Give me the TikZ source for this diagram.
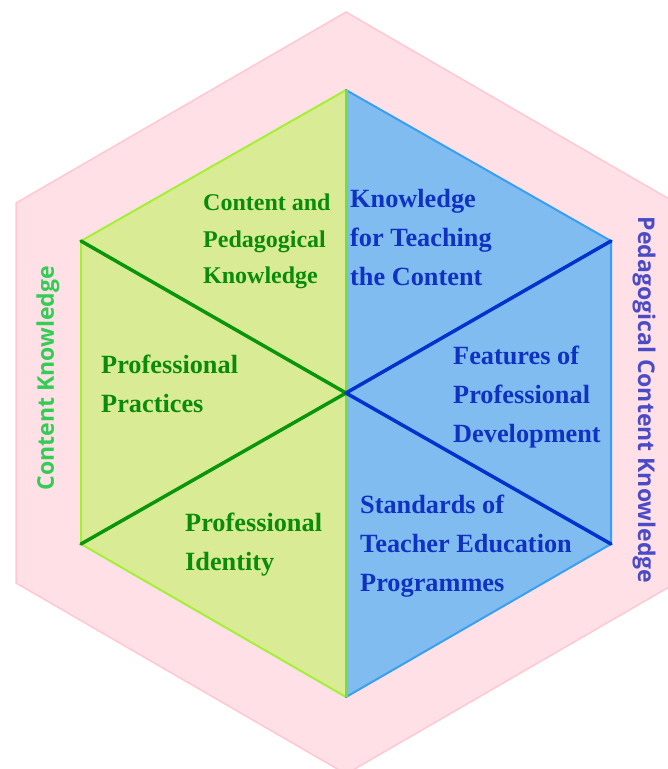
\documentclass[tikz,border=0pt]{standalone}
\usepackage{fontspec}
\setmainfont{Liberation Serif}
\newfontfamily\labelsans{Open Sans}
\definecolor{ringfill}{RGB}{255,224,230}
\definecolor{ringedge}{RGB}{255,200,210}
\definecolor{ckfill}{RGB}{218,235,150}
\definecolor{ckedge}{RGB}{165,240,55}
\definecolor{pckfill}{RGB}{128,188,240}
\definecolor{pckedge}{RGB}{55,160,240}
\definecolor{midline}{RGB}{120,220,70}
\definecolor{ckline}{RGB}{10,150,10}
\definecolor{pckline}{RGB}{0,50,205}
\definecolor{cktext}{RGB}{10,140,10}
\definecolor{pcktext}{RGB}{15,50,195}
\definecolor{cklabel}{RGB}{50,205,85}
\definecolor{pcklabel}{RGB}{75,75,200}
\tikzset{
  cell/.style={anchor=north west, inner sep=0pt, align=left,
    font=\bfseries\fontsize{26.3}{39}\selectfont},
  smallcell/.style={cell, font=\bfseries\fontsize{24}{36.5}\selectfont},
  cktxt/.style={text=cktext},
  pcktxt/.style={text=pcktext},
  sidelabel/.style={inner sep=0pt, font=\labelsans\bfseries\fontsize{23}{26}\selectfont},
  spoke/.style={line width=3.5pt, line cap=round}
}
\begin{document}
\begin{tikzpicture}[x=1pt, y=-1pt]
\useasboundingbox (0,0) rectangle (668,769);
\clip (0,0) rectangle (668,769);
% outer ring
\draw[fill=ringfill, draw=ringedge, line width=1.5pt]
  (346,12) -- (676,203) -- (676,583) -- (346,774) -- (16,583) -- (16,203) -- cycle;
% inner hexagon vertices
\coordinate (T) at (346,90);
\coordinate (UR) at (611,241);
\coordinate (LR) at (611,544);
\coordinate (B) at (346,697);
\coordinate (LL) at (81,544);
\coordinate (UL) at (81,241);
\coordinate (O) at (346,393);
% two halves
\draw[fill=ckfill, draw=ckedge, line width=2pt, line join=round]
  (T) -- (UL) -- (LL) -- (B) -- cycle;
\draw[fill=pckfill, draw=pckedge, line width=2pt, line join=round]
  (T) -- (UR) -- (LR) -- (B) -- cycle;
\draw[draw=midline, line width=3pt] (T) -- (B);
% spokes
\draw[spoke, draw=ckline] (O) -- (UL);
\draw[spoke, draw=ckline] (O) -- (LL);
\draw[spoke, draw=pckline] (O) -- (UR);
\draw[spoke, draw=pckline] (O) -- (LR);
% cell texts
\node[smallcell, cktxt] (cpk) at (203,194) {Content and\\Pedagogical\\Knowledge};
\node[cell, cktxt] (pp) at (101,355) {Professional\\Practices};
\node[cell, cktxt] (pi) at (185,513) {Professional\\Identity};
\node[cell, pcktxt] (ktc) at (350,189) {Knowledge\\for Teaching\\the Content};
\node[cell, pcktxt] (fpd) at (453,346) {Features of\\Professional\\Development};
\node[cell, pcktxt] (ste) at (360,495) {Standards of\\Teacher Education\\Programmes};
% side labels
\node[sidelabel, text=cklabel, rotate=90] (ck) at (48,378) {Content Knowledge};
\node[sidelabel, text=pcklabel, rotate=-90] (pck) at (644,400) {Pedagogical Content Knowledge};
\end{tikzpicture}
\end{document}
